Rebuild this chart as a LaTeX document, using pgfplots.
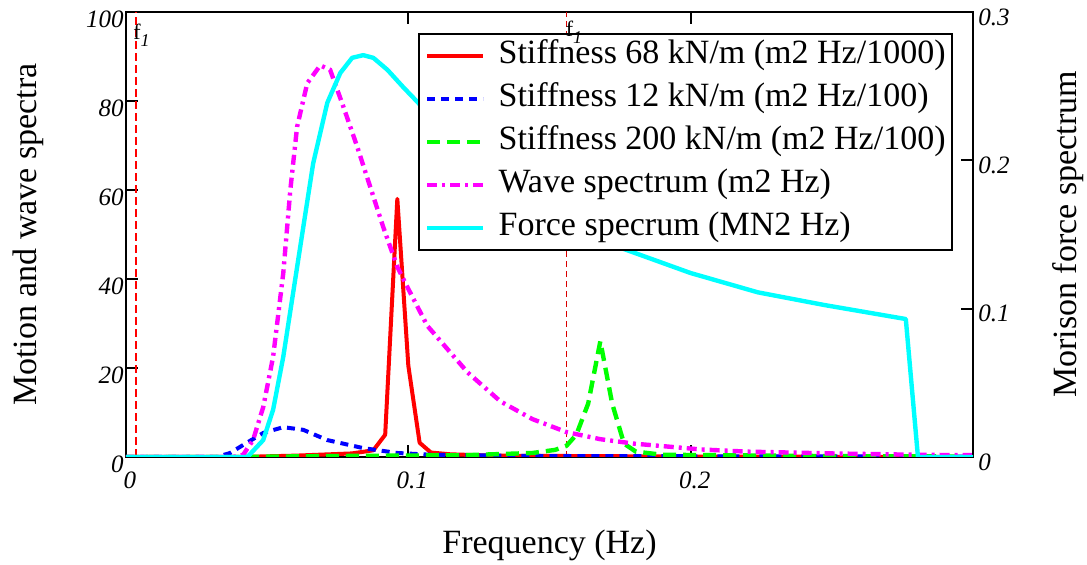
\documentclass[border=0pt]{standalone}
\usepackage{fontspec}
\setmainfont{Liberation Serif}
\usepackage{pgfplots}
\pgfplotsset{compat=1.18}
\definecolor{pcyan}{RGB}{0,255,255}
\definecolor{pmag}{RGB}{255,0,255}
\definecolor{pgreen}{RGB}{0,255,0}
\definecolor{pred}{RGB}{255,0,0}
\definecolor{pblue}{RGB}{0,0,255}
\tikzset{lblfont/.style={font=\fontsize{17}{20}\selectfont}}
\begin{document}
\begin{tikzpicture}
\path[use as bounding box] (-63pt,-54pt) rectangle (480.5pt,228.5pt);
\pgfplotsset{
  common/.style={scale only axis, width=423.5pt, height=222.5pt, at={(0,0)}, anchor=south west,
    xmin=0, xmax=0.3, tick align=inside, major tick length=6pt,
    every tick/.style={black, line width=1.1pt},
    /pgf/number format/assume math mode=true,
    ticklabel style={font=\fontsize{12.5}{12.5}\selectfont\itshape},
  },
}
\begin{axis}[common, ymin=0, ymax=100, axis line style={line width=1.1pt},
  xtick={0,0.1,0.2}, xtick pos=both, ytick={0,20,...,100}, ytick pos=left,
  xticklabel style={yshift=-4pt, xshift=2pt}, yticklabel style={inner sep=1pt, yshift=-3.5pt},
  xlabel={Frequency (Hz)}, ylabel={Motion and wave spectra},
  every axis x label/.style={at={(axis description cs:0.5,-0.1978)}, anchor=center, lblfont},
  every axis y label/.style={at={(axis description cs:-0.1157,0.5)}, anchor=center, rotate=90, lblfont},
]
\addplot[pred, line width=0.7pt, dash pattern=on 4pt off 2pt, forget plot] coordinates {(0.0035,0) (0.0035,100)};
\addplot[pred!85!black, line width=0.6pt, dash pattern=on 3pt off 2pt, forget plot] coordinates {(0.156,0) (0.156,100)};
\coordinate (Fa) at (axis cs:0,100);
\coordinate (Fb) at (axis cs:0.156,100);
% Stiffness 68 kN/m
\addplot[pred, line width=2pt, line join=round] coordinates {
(0,0) (0.04,0) (0.06,0.3) (0.08,0.8) (0.0876,1.5) (0.0918,5) (0.0961,58) (0.1000,20.5)
(0.1040,3.2) (0.1080,1.0) (0.115,0.6) (0.13,0.3) (0.2,0.1) (0.3,0)};
% Stiffness 12 kN/m
\addplot[pblue, line width=2pt, dash pattern=on 4pt off 3pt] coordinates {
(0,0) (0.032,0) (0.0369,0.9) (0.0415,2.7) (0.0486,5.4) (0.0557,6.7) (0.0628,6.1)
(0.0713,3.8) (0.084,2.0) (0.0961,0.9) (0.108,0.5) (0.15,0.2) (0.3,0.1)};
% Stiffness 200 kN/m
\addplot[pgreen, line width=2.2pt, dash pattern=on 6.5pt off 3.5pt, line join=round] coordinates {
(0,0) (0.04,0) (0.07,0.2) (0.12,0.4) (0.144,0.9) (0.152,1.6) (0.156,2.5) (0.1595,5)
(0.1637,12) (0.1680,26) (0.1722,12) (0.1764,3) (0.1806,1.2) (0.19,0.5) (0.25,0.2) (0.3,0.1)};
% Wave spectrum
\addplot[pmag, line width=2.2pt, dash pattern=on 5pt off 2.5pt on 1.5pt off 2.5pt] coordinates {
(0,0) (0.038,0) (0.0415,0.5) (0.045,3.8) (0.0486,11.2) (0.0521,22.5) (0.0557,41.3)
(0.0582,60) (0.0606,74.2) (0.0642,84) (0.0688,88) (0.0723,87) (0.077,78.7) (0.0819,69.7)
(0.0865,60.7) (0.0911,51.7) (0.0961,42.7) (0.1007,36.9) (0.1067,29.5) (0.121,19)
(0.1326,12.5) (0.144,8.5) (0.156,5.6) (0.168,4.0) (0.18,3.0) (0.2035,1.7) (0.22,1.2)
(0.25,0.8) (0.28,0.5) (0.3,0.4)};
\end{axis}
\begin{axis}[common, ymin=0, ymax=0.3, axis x line=none, axis y line*=right,
  axis line style={-, line width=1.1pt},
  ytick={0,0.1,0.2,0.3}, ytick pos=right,
  yticklabel style={inner sep=1pt, xshift=1.5pt, yshift=-2.5pt},
  ylabel={Morison force spectrum},
  every axis y label/.style={at={(axis description cs:1.1122,0.5)}, anchor=center, rotate=90, lblfont},
  legend style={at={(axis description cs:0.345,0.953)}, anchor=north west, draw=black,
    line width=1pt, fill=white, lblfont, inner sep=3pt, row sep=5.5pt,
    nodes={inner sep=0pt, text height=12pt, text depth=4pt},
    /tikz/every odd column/.style={column sep=6.5pt}},
  legend cell align=left,
  legend image code/.code={\draw[#1] (0pt,0pt) -- (28pt,0pt);},
]
\addlegendimage{pred, line width=2pt}
\addlegendimage{pblue, line width=2pt, dash pattern=on 4pt off 3pt}
\addlegendimage{pgreen, line width=2.2pt, dash pattern=on 6.5pt off 3.5pt}
\addlegendimage{pmag, line width=2.2pt, dash pattern=on 5pt off 2.5pt on 1.5pt off 2.5pt}
\addplot[pcyan, line width=2.2pt, line join=round] coordinates {
(0,0) (0.043,0) (0.0486,0.0114) (0.0521,0.0318) (0.0557,0.0675) (0.0592,0.1107)
(0.0628,0.1551) (0.0663,0.198) (0.0713,0.2388) (0.0759,0.2589) (0.0801,0.2691)
(0.084,0.2709) (0.0876,0.2691) (0.0926,0.261) (0.0982,0.2493) (0.1035,0.2388)
(0.11,0.2235) (0.12,0.2025) (0.13,0.186) (0.14,0.1725) (0.15,0.162) (0.16,0.153)
(0.1752,0.141) (0.2,0.124) (0.2238,0.111) (0.2472,0.1025) (0.2762,0.093)
(0.2805,0) (0.3,0)};
\legend{Stiffness 68 kN/m (m2 Hz/1000), Stiffness 12 kN/m (m2 Hz/100),
  Stiffness 200 kN/m (m2 Hz/100), Wave spectrum (m2 Hz), Force specrum (MN2 Hz)}
\end{axis}
\node[anchor=north west, inner sep=0pt, font=\fontsize{11}{11}\selectfont] at ([xshift=3.5pt,yshift=-6pt]Fa) {f\raisebox{-3.5pt}{\fontsize{9}{9}\selectfont\itshape 1}};
\node[anchor=north west, inner sep=0pt, font=\fontsize{11}{11}\selectfont] at ([xshift=-0.5pt,yshift=-4.5pt]Fb) {f\raisebox{-3.5pt}{\fontsize{9}{9}\selectfont\itshape 1}};
\end{tikzpicture}
\end{document}
